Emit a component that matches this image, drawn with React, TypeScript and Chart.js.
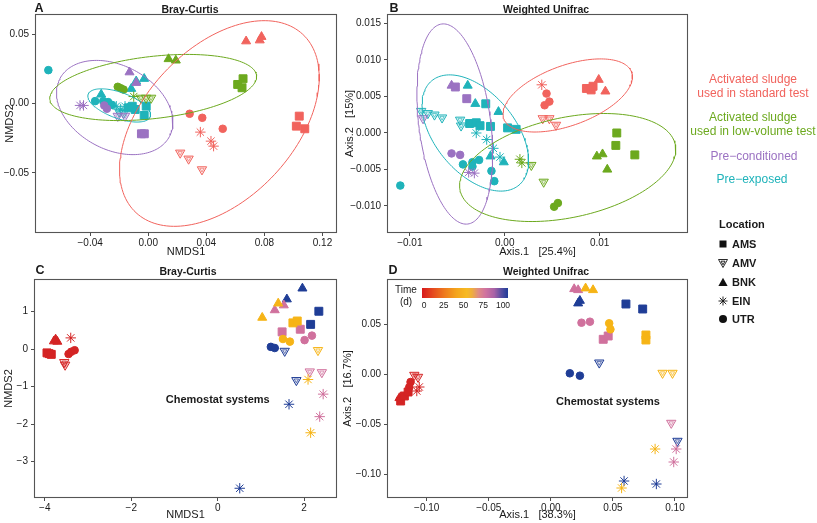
import React, { useEffect, useRef } from 'react';
import { Chart, registerables } from 'chart.js';

Chart.register(...registerables);

const FONT = "'Liberation Sans', Arial, Helvetica, sans-serif";

type Pt = [number, number, string];

// ---------------- Panel A : Bray-Curtis (NMDS1 / NMDS2) ----------------
const A_standard: Pt[] = [
  [0.0674, 0.0448, 'BNK'], [0.078, 0.048, 'BNK'], [0.0768, 0.0455, 'BNK'],
  [0.0285, -0.0074, 'UTR'], [0.0372, -0.0103, 'UTR'], [0.0513, -0.0182, 'UTR'],
  [0.0359, -0.0206, 'EIN'], [0.0432, -0.0271, 'EIN'], [0.045, -0.0307, 'EIN'],
  [0.022, -0.0355, 'AMV'], [0.0278, -0.0398, 'AMV'], [0.037, -0.0475, 'AMV'],
  [0.104, -0.0091, 'AMS'], [0.102, -0.0163, 'AMS'], [0.1078, -0.0182, 'AMS'],
];
const A_lowVolume: Pt[] = [
  [0.014, 0.032, 'BNK'], [0.019, 0.031, 'BNK'],
  [0.0653, 0.0178, 'AMS'], [0.0616, 0.0137, 'AMS'], [0.0646, 0.0113, 'AMS'],
  [-0.021, 0.012, 'UTR'], [-0.019, 0.011, 'UTR'], [-0.017, 0.010, 'UTR'],
  [-0.005, 0.004, 'AMV'], [-0.0015, 0.004, 'AMV'], [0.002, 0.004, 'AMV'],
  [-0.010, 0.005, 'EIN'],
];
const A_preConditioned: Pt[] = [
  [-0.0129, 0.0225, 'BNK'], [-0.0083, 0.0149, 'BNK'],
  [-0.0303, -0.0014, 'UTR'], [-0.0285, -0.0038, 'UTR'],
  [-0.0047, -0.0218, 'AMS'], [-0.0027, -0.0218, 'AMS'],
  [-0.047, -0.0014, 'EIN'], [-0.0446, -0.0014, 'EIN'],
  [-0.021, -0.009, 'AMV'], [-0.016, -0.009, 'AMV'],
];
const A_preExposed: Pt[] = [
  [-0.0688, 0.024, 'UTR'],
  [-0.0324, 0.0065, 'BNK'], [-0.0083, 0.016, 'BNK'], [-0.0028, 0.0178, 'BNK'], [-0.0117, 0.0106, 'BNK'],
  [-0.0366, 0.0017, 'UTR'], [-0.031, 0.0017, 'UTR'], [-0.0276, 0.001, 'UTR'], [-0.025, -0.001, 'UTR'],
  [-0.0136, -0.0031, 'AMS'], [-0.009, -0.0043, 'AMS'], [-0.0014, -0.0019, 'AMS'], [-0.0028, -0.0086, 'AMS'], [-0.011, -0.002, 'AMS'],
  [-0.022, -0.002, 'EIN'], [-0.019, -0.004, 'EIN'], [-0.016, -0.002, 'EIN'],
  [-0.02, -0.006, 'AMV'], [-0.017, -0.007, 'AMV'],
];
// ellipse: [centre x, centre y, semi-axis 1 (dx, dy), semi-axis 2 (dx, dy)]
const A_ellipseStandard = [0.049, -0.0144, 0.0574, 0.0642, 0.0379, -0.0368];
const A_ellipseLowVolume = [0.0034, 0.0115, 0.0712, 0.0086, 0.0025, -0.0222];
const A_ellipsePreConditioned = [-0.0231, -0.0029, 0.0377, -0.0209, -0.0136, -0.0267];
const A_ellipsePreExposed = [-0.02, -0.0014, 0.0214, -0.0081, -0.003, -0.0088];
const A_xTicks = [-0.04, 0, 0.04, 0.08, 0.12];
const A_yTicks = [-0.05, 0, 0.05];

// ---------------- Panel B : Weighted Unifrac (PCoA) ----------------
const B_standard: Pt[] = [
  [0.0039, 0.0066, 'EIN'], [0.0044, 0.0054, 'UTR'], [0.0047, 0.0043, 'UTR'], [0.0042, 0.0038, 'UTR'],
  [0.004, 0.002, 'AMV'], [0.0047, 0.002, 'AMV'], [0.0054, 0.0011, 'AMV'],
  [0.0086, 0.0061, 'AMS'], [0.0091, 0.0059, 'AMS'], [0.0093, 0.0064, 'AMS'],
  [0.0099, 0.0073, 'BNK'], [0.0106, 0.0057, 'BNK'],
];
const B_lowVolume: Pt[] = [
  [0.0016, -0.0036, 'EIN'], [0.0018, -0.0041, 'EIN'],
  [0.0028, -0.0044, 'AMV'], [0.0041, -0.0067, 'AMV'],
  [0.0118, 0, 'AMS'], [0.0117, -0.0017, 'AMS'], [0.0137, -0.003, 'AMS'],
  [0.0097, -0.0032, 'BNK'], [0.0103, -0.0029, 'BNK'], [0.0108, -0.005, 'BNK'],
  [0.0052, -0.0101, 'UTR'], [0.0056, -0.0096, 'UTR'],
];
const B_preConditioned: Pt[] = [
  [-0.0056, 0.0065, 'BNK'], [-0.0052, 0.0063, 'AMS'], [-0.004, 0.0047, 'AMS'],
  [-0.0086, 0.002, 'AMV'],
  [-0.0056, -0.0028, 'UTR'], [-0.0047, -0.003, 'UTR'],
  [-0.0038, -0.0054, 'EIN'], [-0.0032, -0.0055, 'EIN'],
];
const B_preExposed: Pt[] = [
  [-0.011, -0.0072, 'UTR'],
  [-0.0039, 0.0065, 'BNK'], [-0.0031, 0.004, 'BNK'], [-0.00066, 0.0029, 'BNK'], [-0.0015, -0.0032, 'BNK'], [-0.0001, -0.004, 'BNK'],
  [-0.002, 0.004, 'AMS'], [-0.0037, 0.0013, 'AMS'], [-0.003, 0.0014, 'AMS'], [-0.0026, 0.001, 'AMS'],
  [-0.0015, 0.0009, 'AMS'], [0.0003, 0.0007, 'AMS'], [0.0012, 0.0005, 'AMS'],
  [-0.0088, 0.003, 'AMV'], [-0.0081, 0.0027, 'AMV'], [-0.0074, 0.0025, 'AMV'], [-0.0066, 0.0021, 'AMV'],
  [-0.0047, 0.0018, 'AMV'], [-0.0046, 0.001, 'AMV'],
  [-0.003, 0, 'EIN'], [-0.0019, -0.0009, 'EIN'], [-0.0012, -0.0021, 'EIN'], [-0.0005, -0.0033, 'EIN'],
  [-0.0044, -0.0043, 'UTR'], [-0.0034, -0.004, 'UTR'], [-0.0027, -0.0037, 'UTR'],
  [-0.0014, -0.0052, 'UTR'], [-0.0011, -0.0066, 'UTR'], [-0.0034, -0.0046, 'UTR'],
];
const B_ellipseStandard = [0.00663, 0.00514, 0.00673, 0.00319, 0.00108, -0.00386];
const B_ellipseLowVolume = [0.00663, -0.00473, 0.01133, 0.00314, 0.0011, -0.0067];
const B_ellipsePreConditioned = [-0.00526, 0.00123, -0.00137, 0.0137, 0.00375, 0.00063];
const B_ellipsePreExposed = [-0.0031, 0, 0.0046, -0.00714, -0.00322, -0.00352];
const B_xTicks = [-0.01, 0, 0.01];
const B_yTicks = [-0.01, -0.005, 0, 0.005, 0.01, 0.015];

// ---------------- Panel C : Bray-Curtis, chemostats ----------------
const C_day0: Pt[] = [
  [-3.75, 0.26, 'BNK'], [-3.79, 0.21, 'BNK'], [-3.71, 0.2, 'BNK'],
  [-3.9, -0.12, 'AMS'], [-3.95, -0.1, 'AMS'], [-3.85, -0.14, 'AMS'],
  [-3.45, -0.13, 'UTR'], [-3.39, -0.07, 'UTR'], [-3.31, -0.03, 'UTR'],
  [-3.4, 0.3, 'EIN'],
  [-3.55, -0.35, 'AMV'], [-3.53, -0.42, 'AMV'],
];
const C_day50: Pt[] = [
  [1.03, 0.84, 'BNK'], [1.4, 1.22, 'BNK'],
  [1.74, 0.7, 'AMS'], [1.84, 0.75, 'AMS'],
  [1.51, 0.27, 'UTR'], [1.67, 0.2, 'UTR'],
  [2.32, -0.03, 'AMV'],
  [2.09, -0.81, 'EIN'], [2.15, -2.23, 'EIN'],
];
const C_day75: Pt[] = [
  [1.32, 1.04, 'BNK'], [1.53, 1.17, 'BNK'],
  [1.49, 0.46, 'AMS'], [1.91, 0.53, 'AMS'],
  [2.01, 0.24, 'UTR'], [2.18, 0.36, 'UTR'],
  [2.13, -0.6, 'AMV'], [2.41, -0.62, 'AMV'],
  [2.44, -1.2, 'EIN'], [2.36, -1.8, 'EIN'],
];
const C_day100: Pt[] = [
  [1.96, 1.62, 'BNK'], [1.6, 1.33, 'BNK'],
  [2.34, 1.01, 'AMS'], [2.15, 0.66, 'AMS'],
  [1.23, 0.06, 'UTR'], [1.32, 0.03, 'UTR'],
  [1.55, -0.05, 'AMV'], [1.82, -0.83, 'AMV'],
  [1.65, -1.47, 'EIN'], [0.51, -3.71, 'EIN'],
];
const C_xTicks = [-4, -2, 0, 2];
const C_yTicks = [-3, -2, -1, 0, 1];

// ---------------- Panel D : Weighted Unifrac, chemostats ----------------
const D_day0: Pt[] = [
  [-0.121, -0.027, 'AMS'], [-0.118, -0.022, 'AMS'], [-0.115, -0.018, 'AMS'],
  [-0.122, -0.024, 'BNK'],
  [-0.113, -0.008, 'UTR'], [-0.114, -0.013, 'UTR'],
  [-0.110, -0.001, 'AMV'], [-0.107, -0.003, 'AMV'],
  [-0.108, -0.017, 'EIN'], [-0.106, -0.013, 'EIN'],
];
const D_day50: Pt[] = [
  [0.028, 0.0857, 'BNK'], [0.034, 0.084, 'BNK'],
  [0.047, 0.0507, 'UTR'], [0.048, 0.0447, 'UTR'],
  [0.0766, 0.039, 'AMS'], [0.0766, 0.034, 'AMS'],
  [0.090, 0.001, 'AMV'], [0.098, 0.001, 'AMV'],
  [0.084, -0.075, 'EIN'], [0.057, -0.114, 'EIN'],
];
const D_day75: Pt[] = [
  [0.0188, 0.085, 'BNK'], [0.022, 0.084, 'BNK'],
  [0.0247, 0.0513, 'UTR'], [0.0315, 0.0523, 'UTR'],
  [0.0422, 0.0347, 'AMS'], [0.0462, 0.038, 'AMS'],
  [0.097, -0.049, 'AMV'],
  [0.101, -0.075, 'EIN'], [0.099, -0.088, 'EIN'],
];
const D_day100: Pt[] = [
  [0.0234, 0.0733, 'BNK'], [0.022, 0.0707, 'BNK'],
  [0.0605, 0.07, 'AMS'], [0.074, 0.065, 'AMS'],
  [0.0153, 0.0007, 'UTR'], [0.0234, -0.0017, 'UTR'],
  [0.039, 0.0113, 'AMV'], [0.102, -0.067, 'AMV'],
  [0.085, -0.110, 'EIN'], [0.059, -0.107, 'EIN'],
];
const D_xTicks = [-0.1, -0.05, 0, 0.05, 0.1];
const D_yTicks = [-0.1, -0.05, 0, 0.05];
const timeTicks = [0, 25, 50, 75, 100];

// ---------------- styling ----------------
const COL_STANDARD = '#F1635D';
const COL_LOWVOL = '#6CA91E';
const COL_PRECOND = '#9B72C2';
const COL_PREEXP = '#1FB3BA';
const COL_T0 = '#D42424';
const COL_T50 = '#F6B416';
const COL_T75 = '#D0719D';
const COL_T100 = '#1F3D96';
const INK = '#1a1a1a';
const LOCATIONS = ['AMS', 'AMV', 'BNK', 'EIN', 'UTR'];

function hexA(hex: string, a: number) {
  const n = parseInt(hex.slice(1), 16);
  return `rgba(${(n >> 16) & 255},${(n >> 8) & 255},${n & 255},${a})`;
}

function markerDatasets(points: Pt[], color: string) {
  const out: any[] = [];
  for (const loc of LOCATIONS) {
    const data = points.filter((p) => p[2] === loc).map(([x, y]) => ({ x, y }));
    if (!data.length) continue;
    const base = { data, showLine: false, order: 2 };
    if (loc === 'AMS') {
      out.push({ ...base, pointStyle: 'rect', pointRadius: 5.6, backgroundColor: color, borderColor: color, borderWidth: 1 });
    } else if (loc === 'BNK') {
      out.push({ ...base, pointStyle: 'triangle', pointRadius: 5.2, backgroundColor: color, borderColor: color, borderWidth: 1 });
    } else if (loc === 'UTR') {
      out.push({ ...base, pointStyle: 'circle', pointRadius: 3.8, backgroundColor: color, borderColor: color, borderWidth: 1 });
    } else if (loc === 'AMV') {
      out.push({ ...base, pointStyle: 'triangle', pointRotation: 180, pointRadius: 5.4, backgroundColor: hexA(color, 0.12), borderColor: color, borderWidth: 1 });
      out.push({ ...base, pointStyle: 'triangle', pointRotation: 180, pointRadius: 2.5, backgroundColor: 'rgba(0,0,0,0)', borderColor: hexA(color, 0.8), borderWidth: 0.8 });
    } else if (loc === 'EIN') {
      out.push({ ...base, pointStyle: 'star', pointRadius: 5.2, backgroundColor: color, borderColor: color, borderWidth: 1 });
      out.push({ ...base, pointStyle: 'circle', pointRadius: 1, backgroundColor: color, borderColor: color, borderWidth: 0 });
    }
  }
  return out;
}

function ellipseDataset(p: number[], color: string) {
  const [cx, cy, ax, ay, bx, by] = p;
  const data: { x: number; y: number }[] = [];
  const n = 160;
  for (let i = 0; i <= n; i++) {
    const t = (i / n) * Math.PI * 2;
    data.push({ x: cx + ax * Math.cos(t) + bx * Math.sin(t), y: cy + ay * Math.cos(t) + by * Math.sin(t) });
  }
  return { data, showLine: true, pointRadius: 0, borderColor: color, borderWidth: 1, fill: false, tension: 0, order: 1 };
}

function fmt(v: number, dec: number) {
  let s = Number(v).toFixed(dec);
  if (/^-0(\.0+)?$/.test(s)) s = s.slice(1);
  return s.replace('-', '\u2212');
}

function scaleOpts(axis: 'x' | 'y', min: number, max: number, ticks: number[], dec: number, title: string, size: number, titlePad: number) {
  return {
    type: 'linear',
    position: axis === 'x' ? 'bottom' : 'left',
    min,
    max,
    afterBuildTicks: (s: any) => {
      s.ticks = ticks.map((v) => ({ value: v }));
    },
    afterFit: (s: any) => {
      if (axis === 'x') s.height = size;
      else s.width = size;
    },
    grid: { display: true, drawOnChartArea: false, drawTicks: true, tickLength: 3, tickColor: '#4d4d4d', tickWidth: 1 },
    border: { display: false },
    ticks: {
      padding: axis === 'x' ? 1 : 3,
      color: INK,
      autoSkip: false,
      maxRotation: 0,
      font: { size: 10, family: FONT },
      callback: (v: any) => fmt(v, dec),
    },
    title: {
      display: true,
      text: title,
      color: INK,
      font: { size: 11, family: FONT },
      padding: axis === 'x' ? { top: 0, bottom: titlePad } : { top: titlePad, bottom: 0 },
    },
  };
}

const framePlugin = {
  id: 'frame',
  afterDatasetsDraw(chart: any) {
    const { ctx, chartArea } = chart;
    ctx.save();
    ctx.strokeStyle = '#555555';
    ctx.lineWidth = 1.1;
    ctx.strokeRect(chartArea.left + 0.5, chartArea.top + 0.5, chartArea.right - chartArea.left - 1, chartArea.bottom - chartArea.top - 1);
    ctx.restore();
  },
};

const notePlugin = {
  id: 'note',
  afterDatasetsDraw(chart: any, _args: any, opts: any) {
    if (!opts || !opts.text) return;
    const { ctx, scales } = chart;
    ctx.save();
    ctx.font = `bold 11px ${FONT}`;
    ctx.fillStyle = INK;
    ctx.textAlign = 'center';
    ctx.textBaseline = 'middle';
    ctx.fillText(opts.text, scales.x.getPixelForValue(opts.x), scales.y.getPixelForValue(opts.y));
    ctx.restore();
  },
};

type PanelCfg = {
  left: number; top: number; w: number; h: number;
  pad: { left: number; right: number; top: number; bottom: number };
  datasets: any[];
  x: any; y: any;
  note?: { text: string; x: number; y: number };
};

function Panel({ cfg }: { cfg: PanelCfg }) {
  const ref = useRef<HTMLCanvasElement>(null);
  useEffect(() => {
    const chart = new Chart(ref.current as HTMLCanvasElement, {
      type: 'scatter',
      data: { datasets: cfg.datasets },
      options: {
        animation: false,
        responsive: false,
        devicePixelRatio: 1,
        events: [],
        layout: { padding: cfg.pad },
        scales: { x: cfg.x, y: cfg.y },
        plugins: {
          legend: { display: false },
          tooltip: { enabled: false },
          title: { display: false },
          note: cfg.note || {},
        },
      } as any,
      plugins: [framePlugin, notePlugin],
    } as any);
    return () => chart.destroy();
  }, []);
  return (
    <canvas
      ref={ref}
      width={cfg.w}
      height={cfg.h}
      style={{ position: 'absolute', left: cfg.left, top: cfg.top, width: cfg.w, height: cfg.h }}
    />
  );
}

const panelA: PanelCfg = {
  left: 0, top: 0, w: 345, h: 262,
  pad: { left: 0, right: 8, top: 14, bottom: 0 },
  datasets: [
    ellipseDataset(A_ellipseStandard, COL_STANDARD),
    ellipseDataset(A_ellipseLowVolume, COL_LOWVOL),
    ellipseDataset(A_ellipsePreConditioned, COL_PRECOND),
    ellipseDataset(A_ellipsePreExposed, COL_PREEXP),
    ...markerDatasets(A_standard, COL_STANDARD),
    ...markerDatasets(A_lowVolume, COL_LOWVOL),
    ...markerDatasets(A_preConditioned, COL_PRECOND),
    ...markerDatasets(A_preExposed, COL_PREEXP),
  ],
  x: scaleOpts('x', -0.078, 0.13, A_xTicks, 2, 'NMDS1', 29, 3),
  y: scaleOpts('y', -0.0932, 0.0644, A_yTicks, 2, 'NMDS2', 35, 3.4),
};

const panelB: PanelCfg = {
  left: 335, top: 0, w: 365, h: 262,
  pad: { left: 0, right: 12, top: 14, bottom: 0 },
  datasets: [
    ellipseDataset(B_ellipseStandard, COL_STANDARD),
    ellipseDataset(B_ellipseLowVolume, COL_LOWVOL),
    ellipseDataset(B_ellipsePreConditioned, COL_PRECOND),
    ellipseDataset(B_ellipsePreExposed, COL_PREEXP),
    ...markerDatasets(B_standard, COL_STANDARD),
    ...markerDatasets(B_lowVolume, COL_LOWVOL),
    ...markerDatasets(B_preConditioned, COL_PRECOND),
    ...markerDatasets(B_preExposed, COL_PREEXP),
  ],
  x: scaleOpts('x', -0.0124, 0.0193, B_xTicks, 2, 'Axis.1   [25.4%]', 29, 3),
  y: scaleOpts('y', -0.0137, 0.0163, B_yTicks, 3, 'Axis.2   [15%]', 52, 8.4),
};

const panelC: PanelCfg = {
  left: 0, top: 262, w: 345, h: 261,
  pad: { left: 0, right: 8, top: 17, bottom: 0 },
  datasets: [
    ...markerDatasets(C_day0, COL_T0),
    ...markerDatasets(C_day50, COL_T50),
    ...markerDatasets(C_day75, COL_T75),
    ...markerDatasets(C_day100, COL_T100),
  ],
  x: scaleOpts('x', -4.25, 2.76, C_xTicks, 0, 'NMDS1', 25, 1.4),
  y: scaleOpts('y', -3.97, 1.87, C_yTicks, 0, 'NMDS2', 34, 2.4),
  note: { text: 'Chemostat systems', x: 0, y: -1.36 },
};

const panelD: PanelCfg = {
  left: 335, top: 262, w: 365, h: 261,
  pad: { left: 0, right: 12, top: 17, bottom: 0 },
  datasets: [
    ...markerDatasets(D_day0, COL_T0),
    ...markerDatasets(D_day50, COL_T50),
    ...markerDatasets(D_day75, COL_T75),
    ...markerDatasets(D_day100, COL_T100),
  ],
  x: scaleOpts('x', -0.132, 0.1105, D_xTicks, 2, 'Axis.1   [38.3%]', 25, 1.4),
  y: scaleOpts('y', -0.124, 0.095, D_yTicks, 2, 'Axis.2   [16.7%]', 52, 6.4),
  note: { text: 'Chemostat systems', x: 0.046, y: -0.028 },
};

function Txt({ x, y, children, style }: { x: number; y: number; children: any; style?: any }) {
  return (
    <div
      style={{
        position: 'absolute', left: x, top: y, transform: 'translate(-50%,-50%)',
        whiteSpace: 'nowrap', fontFamily: FONT, color: INK, lineHeight: 1, ...style,
      }}
    >
      {children}
    </div>
  );
}

function LegendIcon({ loc }: { loc: string }) {
  const c = '#111';
  let shape: any = null;
  if (loc === 'AMS') shape = <rect x={1.5} y={1.5} width={7} height={7} fill={c} />;
  if (loc === 'AMV')
    shape = (
      <g fill="none" stroke={c} strokeWidth={0.9}>
        <polygon points="0.5,1.5 9.5,1.5 5,9.5" />
        <polygon points="3,3.2 7,3.2 5,6.8" />
      </g>
    );
  if (loc === 'BNK') shape = <polygon points="5,0.8 9.6,9 0.4,9" fill={c} />;
  if (loc === 'EIN')
    shape = (
      <g stroke={c} strokeWidth={0.9}>
        <line x1={5} y1={0.5} x2={5} y2={9.5} />
        <line x1={0.5} y1={5} x2={9.5} y2={5} />
        <line x1={1.8} y1={1.8} x2={8.2} y2={8.2} />
        <line x1={8.2} y1={1.8} x2={1.8} y2={8.2} />
      </g>
    );
  if (loc === 'UTR') shape = <circle cx={5} cy={5} r={4} fill={c} />;
  return (
    <svg width={10} height={10} style={{ display: 'block' }}>
      {shape}
    </svg>
  );
}

const legendLocY = [244, 263, 282, 301, 319];

export default function App() {
  const bold = { fontWeight: 'bold' };
  return (
    <div style={{ position: 'absolute', left: 0, top: 0, width: 817, height: 523, background: '#ffffff', overflow: 'hidden' }}>
      <Panel cfg={panelA} />
      <Panel cfg={panelB} />
      <Panel cfg={panelC} />
      <Panel cfg={panelD} />

      {/* panel letters and titles */}
      <Txt x={39} y={7.5} style={{ ...bold, fontSize: 12.5 }}>A</Txt>
      <Txt x={394} y={7.5} style={{ ...bold, fontSize: 12.5 }}>B</Txt>
      <Txt x={40} y={270} style={{ ...bold, fontSize: 12.5 }}>C</Txt>
      <Txt x={393} y={270} style={{ ...bold, fontSize: 12.5 }}>D</Txt>
      <Txt x={190} y={9} style={{ ...bold, fontSize: 10.5 }}>Bray-Curtis</Txt>
      <Txt x={546} y={9} style={{ ...bold, fontSize: 10.5 }}>Weighted Unifrac</Txt>
      <Txt x={188} y={271} style={{ ...bold, fontSize: 10.5 }}>Bray-Curtis</Txt>
      <Txt x={546} y={271} style={{ ...bold, fontSize: 10.5 }}>Weighted Unifrac</Txt>

      {/* group legend */}
      <div style={{ position: 'absolute', left: 690, width: 126, top: 73, textAlign: 'center', fontFamily: FONT, fontSize: 12, lineHeight: '13.5px', color: COL_STANDARD }}>
        Activated sludge<br />used in standard test
      </div>
      <div style={{ position: 'absolute', left: 690, width: 126, top: 111, textAlign: 'center', fontFamily: FONT, fontSize: 12, lineHeight: '13.5px', color: COL_LOWVOL }}>
        Activated sludge<br />used in low-volume test
      </div>
      <Txt x={754} y={156} style={{ fontSize: 12, color: COL_PRECOND }}>Pre{'\u2212'}conditioned</Txt>
      <Txt x={752} y={179} style={{ fontSize: 12, color: COL_PREEXP }}>Pre{'\u2212'}exposed</Txt>

      {/* location legend */}
      <div style={{ position: 'absolute', left: 719, top: 218, fontFamily: FONT, fontSize: 11, fontWeight: 'bold', color: INK, lineHeight: '12px' }}>Location</div>
      {LOCATIONS.map((loc, i) => (
        <div key={loc} style={{ position: 'absolute', left: 718, top: legendLocY[i] - 6, height: 12, display: 'flex', alignItems: 'center', gap: 4, fontFamily: FONT, fontSize: 11, fontWeight: 'bold', color: INK }}>
          <LegendIcon loc={loc} />
          <span>{loc}</span>
        </div>
      ))}

      {/* time colour bar (panel D) */}
      <Txt x={406} y={290} style={{ fontSize: 10 }}>Time</Txt>
      <Txt x={406} y={302} style={{ fontSize: 10 }}>(d)</Txt>
      <div
        style={{
          position: 'absolute', left: 422, top: 288, width: 86, height: 10,
          background: 'linear-gradient(to right, #d7191c 0%, #e4471f 12%, #ee7a1e 26%, #f4a51d 40%, #f7ba22 52%, #efae3c 58%, #de8a86 66%, #d0729f 74%, #a862a6 84%, #5a4fa2 92%, #1f3c98 100%)',
        }}
      />
      {timeTicks.map((t) => (
        <Txt key={t} x={424 + t * 0.79} y={305} style={{ fontSize: 8.5 }}>{String(t)}</Txt>
      ))}
    </div>
  );
}
